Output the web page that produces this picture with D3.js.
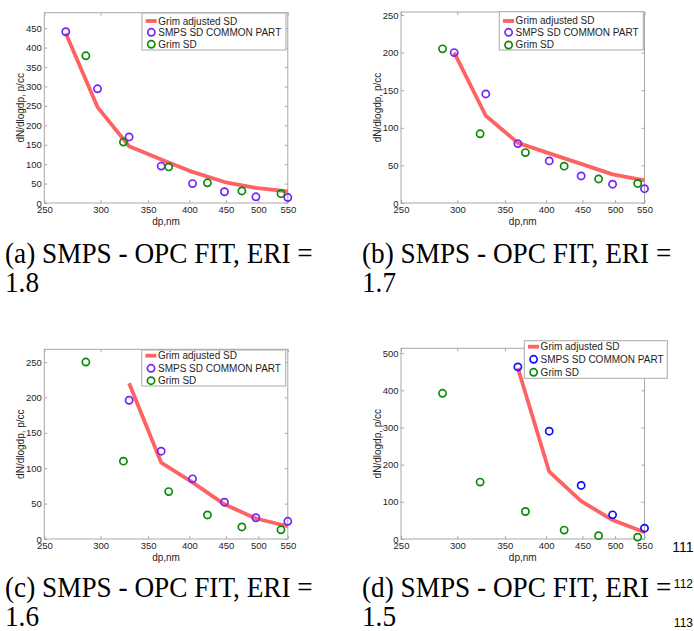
<!DOCTYPE html>
<html><head><meta charset="utf-8">
<script src="https://cdn.jsdelivr.net/npm/d3@7"></script>
<style>body{margin:0;background:#fff}svg{display:block}</style>
</head><body>
<script>
// ---- data ----
const xTicks = [250, 300, 350, 400, 450, 500, 550];
const dpSMPS = [268, 297, 329, 365, 404, 448, 496, 550];
const dpGrim = [286, 323, 374, 424, 474, 538];
const legendLabels = ["Grim adjusted SD", "SMPS SD COMMON PART", "Grim SD"];

// (a) ERI = 1.8
const smpsA = [441, 294, 170, 95, 50, 29, 16, 14];
const grimA = [379, 157, 93, 52, 31, 24];
const adjA  = [437, 247, 146, 112, 80, 54, 39, 30];
const yTicksA = [0, 50, 100, 150, 200, 250, 300, 350, 400, 450];
// (b) ERI = 1.7  (SMPS from 297 nm)
const smpsB = [200, 145, 79, 56, 36, 25, 19];
const grimB = [205, 92, 67, 49, 32, 26];
const adjB  = [200, 116, 80, 66, 52, 38, 30];
const yTicksB = [0, 50, 100, 150, 200, 250];
// (c) ERI = 1.6  (SMPS from 329 nm)
const smpsC = [196, 124, 85, 52, 30, 25];
const grimC = [250, 110, 67, 34, 17, 13];
const adjC  = [220, 108, 80, 49, 29, 18];
const yTicksC = [0, 50, 100, 150, 200, 250];
// (d) ERI = 1.5  (SMPS from 365 nm)
const smpsD = [463, 290, 144, 65, 29];
const grimD = [392, 153, 74, 24, 9, 5];
const adjD  = [460, 181, 102, 51, 18];
const yTicksD = [0, 100, 200, 300, 400, 500];

const captions = [
  ["(a) SMPS - OPC FIT, ERI =", "1.8"],
  ["(b) SMPS - OPC FIT, ERI =", "1.7"],
  ["(c) SMPS - OPC FIT, ERI =", "1.6"],
  ["(d) SMPS - OPC FIT, ERI =", "1.5"]
];
const lineNumbers = ["111", "112", "113"];

// ---- layout ----
const W = 694, H = 631;
const svg = d3.select("body").append("svg").attr("width", W).attr("height", H);
const sans = "'Liberation Sans', Arial, Helvetica, sans-serif";
const serif = "'Liberation Serif', 'Times New Roman', serif";
const boxColor = "#a8a8a8", textColor = "#1e1e1e";
const redColor = "#ff6262", greenColor = "#0a8a0a";

const panels = [
  {left: 44.3, top: 12.7, bot: 203, yMax: 490, yTicks: yTicksA, smps: smpsA, smpsDp: dpSMPS, grim: grimA, adj: adjA,
   smpsColor: "#7522ff", leg: {x: 142, y: 13, w: 144, h: 37, rows: [8, 19.3, 31.3]}, cap: {x: 5, y: 263}},
  {left: 401, top: 12.0, bot: 203, yMax: 254, yTicks: yTicksB, smps: smpsB, smpsDp: dpSMPS.slice(1), grim: grimB, adj: adjB,
   smpsColor: "#7522ff", leg: {x: 499.3, y: 11.7, w: 144, h: 38.3, rows: [9.3, 20.6, 33.3]}, cap: {x: 362, y: 263}},
  {left: 44.3, top: 349.3, bot: 539, yMax: 268, yTicks: yTicksC, smps: smpsC, smpsDp: dpSMPS.slice(2), grim: grimC, adj: adjC,
   smpsColor: "#7522ff", leg: {x: 141.7, y: 350, w: 144, h: 36, rows: [5.7, 18.3, 30.7]}, cap: {x: 5, y: 597}},
  {left: 401, top: 348.3, bot: 539, yMax: 513, yTicks: yTicksD, smps: smpsD, smpsDp: dpSMPS.slice(3), grim: grimD, adj: adjD,
   smpsColor: "#1010ff", leg: {x: 524.3, y: 340.7, w: 143, h: 37.6, rows: [6, 18.6, 31.6]}, cap: {x: 362, y: 597}}
];
const PW = 243.5;

panels.forEach(p => {
  const bot = p.bot;
  const x = d3.scaleLog().domain([250, 550]).range([p.left, p.left + PW]);
  const y = d3.scaleLinear().domain([0, p.yMax]).range([bot, p.top]);
  const g = svg.append("g");

  // box
  g.append("rect").attr("x", p.left).attr("y", p.top).attr("width", PW).attr("height", bot - p.top)
    .attr("fill", "#fff").attr("stroke", boxColor).attr("stroke-width", 1);

  const styleAxis = sel => {
    sel.select(".domain").remove();
    sel.selectAll(".tick line").attr("stroke", boxColor);
    sel.selectAll(".tick text").attr("fill", textColor).style("font-family", sans).style("font-size", "9.5px");
  };
  g.append("g").attr("transform", `translate(0,${bot})`)
    .call(d3.axisBottom(x).tickValues(xTicks).tickFormat(d3.format("d")).tickSizeInner(-3).tickSizeOuter(0).tickPadding(3.5))
    .call(styleAxis);
  g.append("g").attr("transform", `translate(0,${p.top})`)
    .call(d3.axisTop(x).tickValues(xTicks).tickFormat("").tickSizeInner(-3).tickSizeOuter(0))
    .call(styleAxis);
  g.append("g").attr("transform", `translate(${p.left},0)`)
    .call(d3.axisLeft(y).tickValues(p.yTicks).tickSizeInner(-3).tickSizeOuter(0).tickPadding(2.5))
    .call(styleAxis);
  g.append("g").attr("transform", `translate(${p.left + PW},0)`)
    .call(d3.axisRight(y).tickValues(p.yTicks).tickFormat("").tickSizeInner(-3).tickSizeOuter(0))
    .call(styleAxis);

  // axis labels
  g.append("text").attr("x", p.left + PW / 2).attr("y", bot + 21.5).attr("text-anchor", "middle")
    .style("font-family", sans).style("font-size", "10px").attr("fill", textColor).text("dp,nm");
  g.append("text").attr("transform", `translate(${p.left - 23.6},${(p.top + bot) / 2}) rotate(-90)`)
    .attr("text-anchor", "middle").attr("dy", "0.35em")
    .style("font-family", sans).style("font-size", "10px").attr("fill", textColor).text("dN/dlogdp, p/cc");

  // adjusted line
  const adjPts = p.adj.map((v, i) => [p.smpsDp[i], v]);
  g.append("path").datum(adjPts)
    .attr("d", d3.line().x(d => x(d[0])).y(d => y(d[1])))
    .attr("fill", "none").attr("stroke", redColor).attr("stroke-width", 3.8).attr("stroke-linejoin", "round");

  // SMPS circles
  g.selectAll(".smps").data(p.smps).join("circle")
    .attr("cx", (d, i) => x(p.smpsDp[i])).attr("cy", d => y(d)).attr("r", 3.6)
    .attr("fill", "none").attr("stroke", p.smpsColor).attr("stroke-width", 1.7);
  // Grim circles
  g.selectAll(".grim").data(p.grim).join("circle")
    .attr("cx", (d, i) => x(dpGrim[i])).attr("cy", d => y(d)).attr("r", 3.6)
    .attr("fill", "none").attr("stroke", greenColor).attr("stroke-width", 1.7);

  // legend
  const L = p.leg;
  const lg = g.append("g").attr("transform", `translate(${L.x},${L.y})`);
  lg.append("rect").attr("width", L.w).attr("height", L.h).attr("fill", "#fff")
    .attr("stroke", boxColor).attr("stroke-width", 1);
  lg.append("line").attr("x1", 3.7).attr("x2", 14.7).attr("y1", L.rows[0]).attr("y2", L.rows[0])
    .attr("stroke", redColor).attr("stroke-width", 3.8);
  lg.append("circle").attr("cx", 9.3).attr("cy", L.rows[1]).attr("r", 3.6)
    .attr("fill", "none").attr("stroke", p.smpsColor).attr("stroke-width", 1.7);
  lg.append("circle").attr("cx", 9.3).attr("cy", L.rows[2]).attr("r", 3.6)
    .attr("fill", "none").attr("stroke", greenColor).attr("stroke-width", 1.7);
  legendLabels.forEach((t, i) => {
    lg.append("text").attr("x", 16.3).attr("y", L.rows[i]).attr("dy", "0.35em")
      .style("font-family", sans).style("font-size", "10px").attr("fill", textColor).text(t);
  });
});

// captions
panels.forEach((p, i) => {
  const cg = svg.append("g").attr("transform", `translate(${p.cap.x},${p.cap.y}) scale(0.94,1)`);
  cg.append("text").attr("x", 0).attr("y", 0).style("font-family", serif).style("font-size", "29px")
    .attr("fill", "#000").text(captions[i][0]);
  cg.append("text").attr("x", 0).attr("y", 29).style("font-family", serif).style("font-size", "29px")
    .attr("fill", "#000").text(captions[i][1]);
});

// line numbers
svg.append("text").attr("x", 693.5).attr("y", 552).attr("text-anchor", "end")
  .style("font-family", sans).style("font-size", "14px").attr("fill", "#000").text(lineNumbers[0]);
svg.append("text").attr("x", 693).attr("y", 588).attr("text-anchor", "end")
  .style("font-family", sans).style("font-size", "12px").attr("fill", "#000").text(lineNumbers[1]);
svg.append("text").attr("x", 693).attr("y", 627).attr("text-anchor", "end")
  .style("font-family", sans).style("font-size", "12px").attr("fill", "#000").text(lineNumbers[2]);
</script>
</body></html>
